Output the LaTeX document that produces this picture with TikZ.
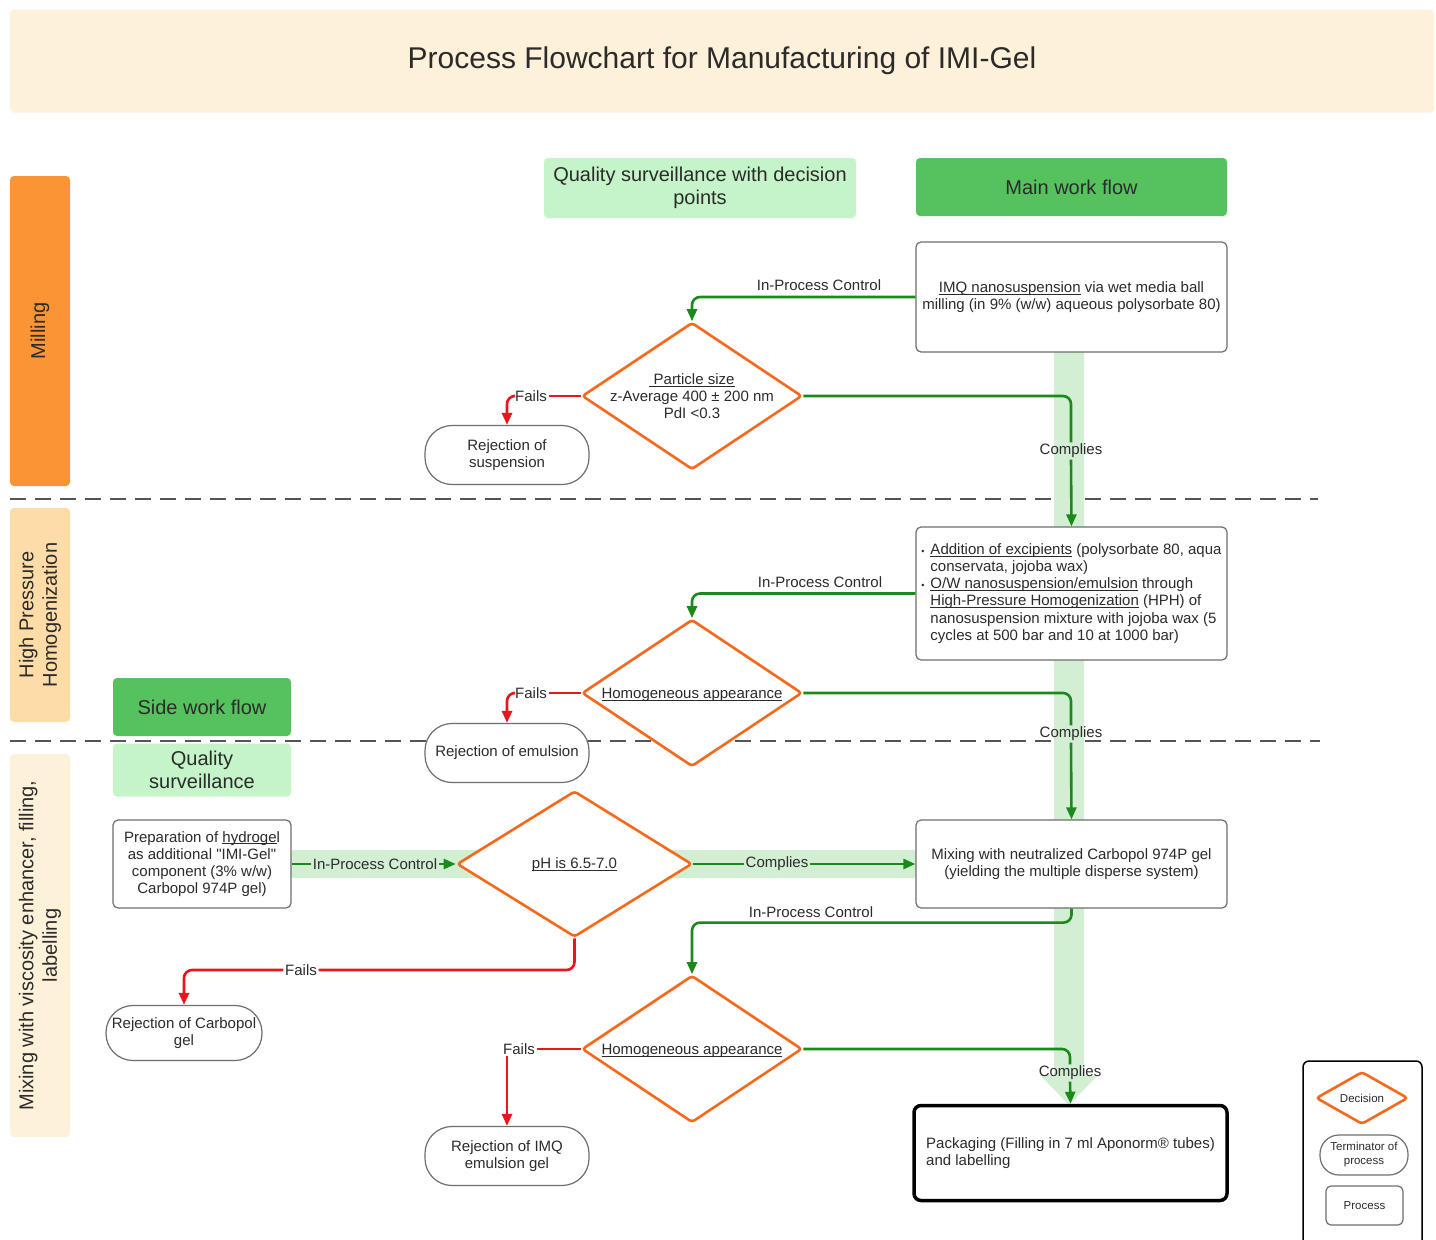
\documentclass[tikz,border=0pt]{standalone}
\usepackage{fontspec}
\setmainfont{Liberation Sans}
\usetikzlibrary{arrows.meta,shapes.geometric}

\definecolor{cream}{HTML}{FEF1DA}
\definecolor{paleorange}{HTML}{FDDCA8}
\definecolor{lorange}{HTML}{FB9434}
\definecolor{mgreen}{HTML}{55C25E}
\definecolor{pgreen}{HTML}{C4F4C8}
\definecolor{band}{HTML}{D3EFD3}
\definecolor{decor}{HTML}{F4691C}
\definecolor{okgreen}{HTML}{1B8A1B}
\definecolor{failred}{HTML}{E8161E}
\definecolor{boxgray}{HTML}{6E6E6E}
\definecolor{ink}{HTML}{2B2B2B}
\definecolor{dashgray}{HTML}{555555}

\newcommand{\fsz}[2]{\fontsize{#1}{#2}\selectfont}
\newlength{\undlen}
\newcommand{\undl}[1]{\settowidth{\undlen}{#1}\rlap{\rule[-2.2pt]{\undlen}{0.8pt}}#1}

\tikzset{
  proc/.style={draw=boxgray, line width=1.2pt, rounded corners=5pt, fill=white, text=ink,
    minimum width=311pt, align=center, font=\fsz{15}{17.2}},
  pack/.style={proc, draw=black, line width=3.5pt, rounded corners=7pt, align=left},
  dec/.style={diamond, draw=decor, line width=2.6pt, fill=white, rounded corners=3pt,
    inner sep=0pt, minimum width=220pt, minimum height=147pt},
  dectxt/.style={text=ink, align=center, font=\fsz{15}{17.2}},
  term/.style={draw=boxgray, line width=1.2pt, fill=white, text=ink, rounded corners=27pt,
    minimum width=164pt, minimum height=59pt, align=center, font=\fsz{15}{17.2}},
  lane/.style={rounded corners=4pt, minimum height=60pt, text=ink, align=center,
    rotate=90, font=\fsz{20}{23.5}},
  head/.style={rounded corners=4pt, text=ink, align=center, font=\fsz{20}{23}},
  flow/.style={text=ink, font=\fsz{15}{17}, inner sep=1.5pt},
  okline/.style={draw=okgreen, line width=2.6pt, rounded corners=8pt},
  failline/.style={draw=failred, line width=2.6pt, rounded corners=8pt},
  tip/.style={-{Triangle[length=12pt,width=10pt]}},
  sepline/.style={draw=dashgray, line width=2.6pt, dash pattern=on 16pt off 9pt},
}

\begin{document}
\begin{tikzpicture}[x=1pt, y=-1pt]
\useasboundingbox (0,0) rectangle (1436,1240);
\fill[white] (0,0) rectangle (1436,1240);

\node[head, fill=cream, minimum width=1424pt, minimum height=103pt, font=\fsz{30}{34}] (title) at (722,61) {Process Flowchart for Manufacturing of IMI-Gel};

\node[lane, fill=lorange, minimum width=310pt] (milling) at (40,331) {Milling};
\node[lane, fill=paleorange, minimum width=214pt] (hph) at (40,615) {High Pressure\\Homogenization};
\node[lane, fill=cream, minimum width=383pt] (mixing) at (40,945.5) {Mixing with viscosity enhancer, filling,\\labelling};

\node[head, fill=pgreen, minimum width=312pt, minimum height=60pt] (qsd) at (700,188) {Quality surveillance with decision\\points};
\node[head, fill=mgreen, minimum width=311pt, minimum height=58pt] (mwf) at (1071.5,187) {Main work flow};
\node[head, fill=mgreen, minimum width=178pt, minimum height=58pt] (swf) at (202,707) {Side work flow};
\node[head, fill=pgreen, minimum width=178pt, minimum height=53pt] (qs) at (202,770) {Quality\\surveillance};

\draw[sepline] (10,499) -- (1318,499);
\draw[sepline] (10,741) -- (1320,741);

\fill[band] (1054,352) -- (1084,352) -- (1084,1075) -- (1098,1075) -- (1069,1105) -- (1040,1075) -- (1054,1075) -- cycle;
\fill[band, rounded corners=3pt] (291,850) rectangle (916,878);

\node[proc, minimum height=110pt] (p1) at (1071.5,297) {\undl{IMQ nanosuspension} via wet media ball\\milling (in 9\% (w/w) aqueous polysorbate 80)};
\node[proc, minimum height=133pt, align=left] (p2) at (1071.5,593.5) {\makebox[9pt][l]{\fsz{9}{9}\textbullet}\undl{Addition of excipients} (polysorbate 80, aqua\\
\hspace*{9pt}conservata, jojoba wax)\\
\makebox[9pt][l]{\fsz{9}{9}\textbullet}\undl{O/W nanosuspension/emulsion} through\\
\hspace*{9pt}\undl{High-Pressure Homogenization} (HPH) of\\
\hspace*{9pt}nanosuspension mixture with jojoba wax (5\\
\hspace*{9pt}cycles at 500 bar and 10 at 1000 bar)};
\node[proc, minimum height=88pt] (p3) at (1071.5,864) {Mixing with neutralized Carbopol 974P gel\\(yielding the multiple disperse system)};
\node[pack, minimum width=313pt, minimum height=95pt] (p4) at (1070.5,1153) {Packaging (Filling in 7 ml Aponorm® tubes)\\and labelling};
\node[proc, minimum width=178pt, minimum height=88pt] (sp) at (202,864) {Preparation of \undl{hydroge}l\\as additional \textquotedbl IMI-Gel\textquotedbl\\component (3\% w/w)\\Carbopol 974P gel)};

\node[dec, label={[dectxt]center:{\undl{\ Particle size}\\z-Average 400 ± 200 nm\\PdI <0.3}}] (d1) at (692,396) {};
\node[dec, label={[dectxt, yshift=-2pt]center:{\undl{Homogeneous appearance}}}] (d2) at (692,693) {};
\node[dec, minimum width=235pt, minimum height=146pt, label={[dectxt, yshift=-1pt]center:{\undl{pH is 6.5-7.0}}}] (d3) at (574.5,864) {};
\node[dec, label={[dectxt, yshift=-2pt]center:{\undl{Homogeneous appearance}}}] (d4) at (692,1049) {};

\node[term] (t1) at (507,455) {Rejection of\\suspension};
\node[term] (t2) at (507,753) {Rejection of emulsion};
\node[term, minimum width=156pt, minimum height=55pt] (t3) at (184,1033) {Rejection of Carbopol\\gel};
\node[term] (t4) at (507,1156) {Rejection of IMQ\\emulsion gel};

\node[flow] (ipc1) at (819,285) {In-Process Control};
\node[flow] (ok1) at (1071,451) {Complies};
\node[flow] (fail1) at (531,396) {Fails};
\node[flow] (ipc2) at (820,582) {In-Process Control};
\node[flow] (ok2) at (1071,734) {Complies};
\node[flow] (fail2) at (531,693) {Fails};
\node[flow] (ipc3) at (375,864) {In-Process Control};
\node[flow] (ok3) at (777,864) {Complies};
\node[flow] (fail3) at (301,970) {Fails};
\node[flow] (ipc4) at (811,912) {In-Process Control};
\node[flow] (ok4) at (1070,1073) {Complies};
\node[flow] (fail4) at (519,1049) {Fails};

\draw[okline, tip] (p1.west) -| (d1.north);
\draw[okline] (d1.east) -| (ok1.north);
\draw[okline, tip] (ok1.south) -- (p2.north);
\draw[okline, tip] (p2.west) -| (d2.north);
\draw[okline] (d2.east) -| (ok2.north);
\draw[okline, tip] (ok2.south) -- (p3.north);
\draw[okline] (sp.east) -- (ipc3.west);
\draw[okline, tip] (ipc3.east) -- (d3.west);
\draw[okline] (d3.east) -- (ok3.west);
\draw[okline, tip] (ok3.east) -- (p3.west);
\draw[okline, tip] (p3.south) -- ++(0,14) -| (d4.north);
\draw[okline] (d4.east) -| (ok4.north);
\draw[okline, tip] (ok4.south) -- (p4.north);

\draw[failline] (d1.west) -- (fail1.east);
\draw[failline, tip] (fail1.west) -| (t1.north);
\draw[failline] (d2.west) -- (fail2.east);
\draw[failline, tip] (fail2.west) -| (t2.north);
\draw[failline] (d3.south) |- (fail3.east);
\draw[failline, tip] (fail3.west) -| (t3.north);
\draw[failline] (d4.west) -- (fail4.east);
\draw[failline, tip] (fail4.south -| t4.north) -- (t4.north);

\draw[black, line width=1.5pt, rounded corners=6pt, fill=white] (1303,1061) rectangle (1422,1270);
\node[dec, minimum width=92pt, minimum height=46pt, text=ink, font=\fsz{11.5}{14}] (lgdec) at (1362,1098) {Decision};
\node[term, minimum width=88pt, minimum height=40pt, rounded corners=19pt, font=\fsz{11.5}{14}] (lgterm) at (1364,1155) {Terminator of\\process};
\node[proc, minimum width=77pt, minimum height=39pt, font=\fsz{11.5}{14}] (lgproc) at (1364.5,1205.5) {Process};
\end{tikzpicture}
\end{document}
